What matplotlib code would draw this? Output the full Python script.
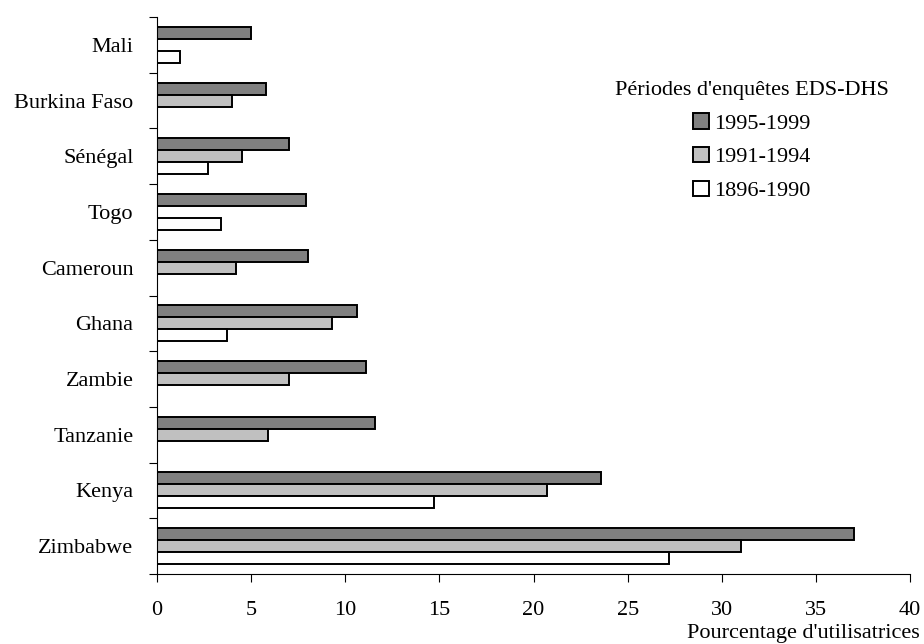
import matplotlib
matplotlib.use("Agg")
import matplotlib.pyplot as plt
import numpy as np

countries = ["Mali", "Burkina Faso", "Sénégal", "Togo", "Cameroun",
             "Ghana", "Zambie", "Tanzanie", "Kenya", "Zimbabwe"]
series_labels = ["1995-1999", "1991-1994", "1896-1990"]
v_1995_1999 = [5.0, 5.8, 7.0, 7.9, 8.0, 10.6, 11.1, 11.6, 23.6, 37.0]
v_1991_1994 = [np.nan, 4.0, 4.5, np.nan, 4.2, 9.3, 7.0, 5.9, 20.7, 31.0]
v_1896_1990 = [1.2, np.nan, 2.7, 3.4, np.nan, 3.7, np.nan, np.nan, 14.7, 27.2]
xticks = [0, 5, 10, 15, 20, 25, 30, 35, 40]
colors = ["#808080", "#c0c0c0", "#ffffff"]

plt.rcParams['font.family'] = ['Liberation Serif', 'DejaVu Serif']
plt.rcParams['font.size'] = 16

fig = plt.figure(figsize=(9.24, 6.44), dpi=100)
ax = fig.add_axes([157/924, 70/644, (910-157)/924, (574-17)/644])

y = np.arange(len(countries))
h = 0.215
offsets = [-h, 0, h]
series = [v_1995_1999, v_1991_1994, v_1896_1990]
for vals, off, col, lab in zip(series, offsets, colors, series_labels):
    ax.barh(y + off, vals, height=h, color=col, edgecolor="black",
            linewidth=1.4, label=lab)

ax.set_ylim(len(countries) - 0.5, -0.5)
ax.set_xlim(0, 40)
ax.set_xticks(xticks)
ax.set_xticklabels([str(t) for t in xticks])
ax.set_yticks(y)
ax.set_yticklabels(countries)
ax.set_yticks(np.arange(-0.5, len(countries) + 0.5, 1), minor=True)
ax.tick_params(axis='y', which='major', length=0, pad=17)
ax.tick_params(axis='y', which='minor', length=6, width=0.8, direction='out')
ax.tick_params(axis='x', which='major', length=6, width=0.8, direction='out', pad=13.5)

for s in ['top', 'right']:
    ax.spines[s].set_visible(False)
for s in ['left', 'bottom']:
    ax.spines[s].set_linewidth(0.8)

ax.set_xlabel("Pourcentage d'utilisatrices", ha='right')
ax.xaxis.set_label_coords((920-157)/(910-157), -0.089)

leg = ax.legend(title="Périodes d'enquêtes EDS-DHS", frameon=False,
                loc='center', bbox_to_anchor=(752/924, 1 - 141/644),
                bbox_transform=fig.transFigure,
                handlelength=0.7, handleheight=0.7, handletextpad=0.25,
                labelspacing=0.6, fontsize=16, title_fontsize=16)

fig.savefig("out.png", dpi=100)
